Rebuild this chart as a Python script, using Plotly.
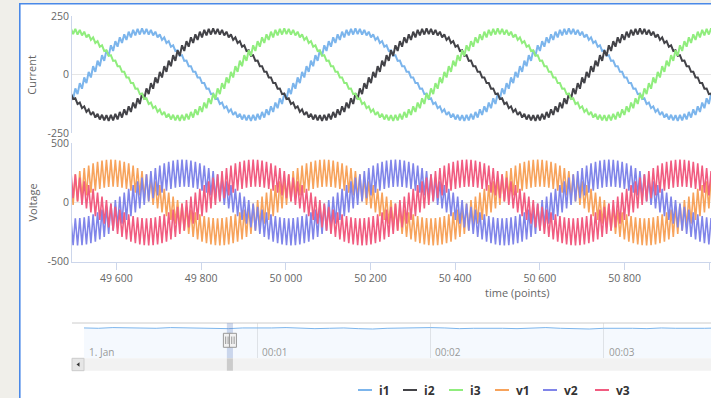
import numpy as np
import plotly.graph_objects as go

W, H = 711, 398

# ---------------- data ----------------
x_start = 49495          # time of first sample (points)
x_step = 10.5            # spacing of the samples (points)
view_range = [49495, 51597]   # extent of the main time axis (= navigator selection)
nav_total = 300000            # full extent of the data in the navigator

# centre of each waveform, read every 10.5 points
i1 = [
    -92, -71, -48, -24, 0, 24, 48, 71, 92, 113, 131, 147, 160, 171, 179, 183,
    185, 183, 179, 171, 160, 147, 131, 113, 92, 71, 48, 24, 0, -24, -48, -71, -92, -113, -131, -147, -160, -171, -179, -183,
    -185, -183, -179, -171, -160, -147, -131, -113, -92, -71, -48, -24, 0, 24, 48, 71, 92, 113, 131, 147, 160, 171, 179, 183,
    185, 183, 179, 171, 160, 147, 131, 113, 92, 71, 48, 24, 0, -24, -48, -71, -92, -113, -131, -147, -160, -171, -179, -183,
    -185, -183, -179, -171, -160, -147, -131, -113, -92, -71, -48, -24, 0, 24, 48, 71, 92, 113, 131, 147, 160, 171, 179, 183,
    185, 183, 179, 171, 160, 147, 131, 113, 92, 71, 48, 24, 0, -24, -48, -71, -92, -113, -131, -147, -160, -171, -179, -183,
    -185, -183, -179, -171, -160, -147, -131, -113, -92,
]
i2 = [
    -92, -113, -131, -147, -160, -171, -179, -183,
    -185, -183, -179, -171, -160, -147, -131, -113, -92, -71, -48, -24, 0, 24, 48, 71, 92, 113, 131, 147, 160, 171, 179, 183,
    185, 183, 179, 171, 160, 147, 131, 113, 92, 71, 48, 24, 0, -24, -48, -71, -92, -113, -131, -147, -160, -171, -179, -183,
    -185, -183, -179, -171, -160, -147, -131, -113, -92, -71, -48, -24, 0, 24, 48, 71, 92, 113, 131, 147, 160, 171, 179, 183,
    185, 183, 179, 171, 160, 147, 131, 113, 92, 71, 48, 24, 0, -24, -48, -71, -92, -113, -131, -147, -160, -171, -179, -183,
    -185, -183, -179, -171, -160, -147, -131, -113, -92, -71, -48, -24, 0, 24, 48, 71, 92, 113, 131, 147, 160, 171, 179, 183,
    185, 183, 179, 171, 160, 147, 131, 113, 92, 71, 48, 24, 0, -24, -48, -71, -92,
]
i3 = [
    185, 183, 179, 171, 160, 147, 131, 113, 92, 71, 48, 24, 0, -24, -48, -71, -92, -113, -131, -147, -160, -171, -179, -183,
    -185, -183, -179, -171, -160, -147, -131, -113, -92, -71, -48, -24, 0, 24, 48, 71, 92, 113, 131, 147, 160, 171, 179, 183,
    185, 183, 179, 171, 160, 147, 131, 113, 92, 71, 48, 24, 0, -24, -48, -71, -92, -113, -131, -147, -160, -171, -179, -183,
    -185, -183, -179, -171, -160, -147, -131, -113, -92, -71, -48, -24, 0, 24, 48, 71, 92, 113, 131, 147, 160, 171, 179, 183,
    185, 183, 179, 171, 160, 147, 131, 113, 92, 71, 48, 24, 0, -24, -48, -71, -92, -113, -131, -147, -160, -171, -179, -183,
    -185, -183, -179, -171, -160, -147, -131, -113, -92, -71, -48, -24, 0, 24, 48, 71, 92, 113, 131, 147, 160, 171, 179, 183,
    185,
]
v1 = [
    95, 124, 151, 175, 197, 215, 229, 240, 246,
    248, 246, 240, 229, 215, 197, 175, 151, 124, 95, 64, 32, 0, -32, -64, -95, -124, -151, -175, -197, -215, -229, -240, -246,
    -248, -246, -240, -229, -215, -197, -175, -151, -124, -95, -64, -32, 0, 32, 64, 95, 124, 151, 175, 197, 215, 229, 240, 246,
    248, 246, 240, 229, 215, 197, 175, 151, 124, 95, 64, 32, 0, -32, -64, -95, -124, -151, -175, -197, -215, -229, -240, -246,
    -248, -246, -240, -229, -215, -197, -175, -151, -124, -95, -64, -32, 0, 32, 64, 95, 124, 151, 175, 197, 215, 229, 240, 246,
    248, 246, 240, 229, 215, 197, 175, 151, 124, 95, 64, 32, 0, -32, -64, -95, -124, -151, -175, -197, -215, -229, -240, -246,
    -248, -246, -240, -229, -215, -197, -175, -151, -124, -95, -64, -32, 0, 32, 64, 95,
]
v2 = [
    -246,
    -248, -246, -240, -229, -215, -197, -175, -151, -124, -95, -64, -32, 0, 32, 64, 95, 124, 151, 175, 197, 215, 229, 240, 246,
    248, 246, 240, 229, 215, 197, 175, 151, 124, 95, 64, 32, 0, -32, -64, -95, -124, -151, -175, -197, -215, -229, -240, -246,
    -248, -246, -240, -229, -215, -197, -175, -151, -124, -95, -64, -32, 0, 32, 64, 95, 124, 151, 175, 197, 215, 229, 240, 246,
    248, 246, 240, 229, 215, 197, 175, 151, 124, 95, 64, 32, 0, -32, -64, -95, -124, -151, -175, -197, -215, -229, -240, -246,
    -248, -246, -240, -229, -215, -197, -175, -151, -124, -95, -64, -32, 0, 32, 64, 95, 124, 151, 175, 197, 215, 229, 240, 246,
    248, 246, 240, 229, 215, 197, 175, 151, 124, 95, 64, 32, 0, -32, -64, -95, -124, -151, -175, -197, -215, -229, -240, -246,
]
v3 = [
    151, 124, 95, 64, 32, 0, -32, -64, -95, -124, -151, -175, -197, -215, -229, -240, -246,
    -248, -246, -240, -229, -215, -197, -175, -151, -124, -95, -64, -32, 0, 32, 64, 95, 124, 151, 175, 197, 215, 229, 240, 246,
    248, 246, 240, 229, 215, 197, 175, 151, 124, 95, 64, 32, 0, -32, -64, -95, -124, -151, -175, -197, -215, -229, -240, -246,
    -248, -246, -240, -229, -215, -197, -175, -151, -124, -95, -64, -32, 0, 32, 64, 95, 124, 151, 175, 197, 215, 229, 240, 246,
    248, 246, 240, 229, 215, 197, 175, 151, 124, 95, 64, 32, 0, -32, -64, -95, -124, -151, -175, -197, -215, -229, -240, -246,
    -248, -246, -240, -229, -215, -197, -175, -151, -124, -95, -64, -32, 0, 32, 64, 95, 124, 151, 175, 197, 215, 229, 240, 246,
    248, 246, 240, 229, 215, 197, 175, 151,
]
# half-height of the fast ripple around each centre
current_ripple = 12
voltage_ripple = 115

series_names = ["i1", "i2", "i3", "v1", "v2", "v3"]
series_colors = ["#7cb5ec", "#434348", "#90ed7d", "#f7a35c", "#8085e9", "#f15c80"]

x_tick_vals = [49600, 49800, 50000, 50200, 50400, 50600, 50800, 51000]
x_tick_text = ["49 600", "49 800", "50 000", "50 200", "50 400", "50 600", "50 800", "51 000"]
current_ticks = [-250, 0, 250]
current_tick_text = ["-250", "0", "250"]
voltage_ticks = [-500, 0, 500]
voltage_tick_text = ["-500", "0", "500"]

# navigator series (one value every 5000 points)
nav_step = 5000
nav_values = [86, 85, 87, 86, 84, 85, 87, 86, 85, 83, 84, 86, 85, 86, 87, 85, 84, 85, 86, 84, 83, 85, 86,
              85, 87, 86, 84, 85, 86, 85, 84, 86, 87, 85, 84, 83, 85, 86, 85, 84, 86, 85, 84, 85, 86]
nav_label_ms = [0, 60000, 120000, 180000]
nav_labels = ["1. Jan", "00:01", "00:02", "00:03"]

# ---------------- layout helpers (pixel -> paper) ----------------
def px(x):
    return x / W


def py(y):
    return 1 - y / H


PLOT_L, PLOT_R_FULL = 72, 962        # main plot spans beyond the window on the right
NAV_L, NAV_R_FULL = 84, 950
x_vis_end = view_range[0] + (view_range[1] - view_range[0]) * (W - PLOT_L) / (PLOT_R_FULL - PLOT_L)
nav_vis_end = nav_total * (W - NAV_L) / (NAV_R_FULL - NAV_L)

CUR_TOP, CUR_BOT = 16, 133.3
VOL_TOP, VOL_BOT = 143.3, 261.7
NAV_TOP, NAV_BOT = 323, 358.3
SB_TOP, SB_BOT = 358.3, 370.7


def zigzag(center, ripple):
    c = np.asarray(center, dtype=float)
    xk = x_start + x_step * np.arange(len(c))
    xs = np.empty(2 * len(c))
    ys = np.empty(2 * len(c))
    xs[0::2] = xk - x_step / 4
    xs[1::2] = xk + x_step / 4
    ys[0::2] = c + ripple
    ys[1::2] = c - ripple
    return xs, ys


fig = go.Figure()

currents = [i1, i2, i3]
voltages = [v1, v2, v3]
for vals, name, col in zip(currents, series_names[:3], series_colors[:3]):
    xs, ys = zigzag(vals, current_ripple)
    fig.add_trace(go.Scatter(x=xs, y=ys, name=name, mode="lines", xaxis="x", yaxis="y",
                             line=dict(color=col, width=2, simplify=False), hoverinfo="skip"))
for vals, name, col in zip(voltages, series_names[3:], series_colors[3:]):
    xs, ys = zigzag(vals, voltage_ripple)
    fig.add_trace(go.Scatter(x=xs, y=ys, name=name, mode="lines", xaxis="x2", yaxis="y2",
                             line=dict(color=col, width=1.6, simplify=False), hoverinfo="skip"))

nav_x = nav_step * np.arange(len(nav_values))
fig.add_trace(go.Scatter(x=nav_x, y=nav_values, mode="lines", xaxis="x3", yaxis="y3",
                         line=dict(color="#7cb5ec", width=1), fill="tozeroy",
                         fillcolor="rgba(124,181,236,0.08)", hoverinfo="skip"))

axis_font = dict(family="Open Sans, sans-serif", size=10.5, color="#666666")

fig.update_layout(
    width=W, height=H,
    margin=dict(l=0, r=0, t=0, b=0, pad=0, autoexpand=False),
    paper_bgcolor="white", plot_bgcolor="rgba(0,0,0,0)",
    showlegend=False,
    font=dict(family="Open Sans, sans-serif", size=11, color="#666666"),
    xaxis=dict(domain=[px(PLOT_L), 1], anchor="y", range=[view_range[0], x_vis_end], automargin=False,
               showticklabels=False, showgrid=False, zeroline=False, showline=False, ticks=""),
    yaxis=dict(domain=[py(CUR_BOT), py(CUR_TOP)], anchor="x", range=[-250, 250], automargin=False,
               tickvals=current_ticks, ticktext=current_tick_text, tickfont=axis_font,
               showgrid=True, gridcolor="#e6e6e6", zeroline=False,
               showline=True, linecolor="#ccd6eb", ticks=""),
    xaxis2=dict(domain=[px(PLOT_L), 1], anchor="y2", range=[view_range[0], x_vis_end], automargin=False,
                tickvals=x_tick_vals, ticktext=x_tick_text, tickfont=axis_font,
                ticks="outside", ticklen=7, tickcolor="#ccd6eb", tickwidth=1,
                showline=True, linecolor="#ccd6eb", showgrid=False, zeroline=False),
    yaxis2=dict(domain=[py(VOL_BOT), py(VOL_TOP)], anchor="x2", range=[-500, 500], automargin=False,
                tickvals=voltage_ticks, ticktext=voltage_tick_text, tickfont=axis_font,
                showgrid=True, gridcolor="#e6e6e6", zeroline=False,
                showline=True, linecolor="#ccd6eb", ticks=""),
    xaxis3=dict(domain=[px(NAV_L), 1], anchor="y3", range=[0, nav_vis_end], automargin=False,
                tickvals=nav_label_ms, showticklabels=False, showgrid=True, gridcolor="#e6e6e6",
                zeroline=False, showline=False, ticks=""),
    yaxis3=dict(domain=[py(NAV_BOT), py(NAV_TOP)], anchor="x3", range=[0, 100], visible=False,
                automargin=False),
)

shapes = []
# page frame: grey margin and blue border
shapes.append(dict(type="rect", xref="paper", yref="paper", x0=0, x1=px(19), y0=0, y1=1,
                   fillcolor="#f0efea", line=dict(width=0)))
shapes.append(dict(type="rect", xref="paper", yref="paper", x0=0, x1=1, y0=py(3), y1=1,
                   fillcolor="#f0efea", line=dict(width=0)))
shapes.append(dict(type="line", xref="paper", yref="paper", x0=px(19.8), x1=px(19.8), y0=0, y1=py(3.2),
                   line=dict(color="#4a89e8", width=1.6)))
shapes.append(dict(type="line", xref="paper", yref="paper", x0=px(19), x1=1, y0=py(3.8), y1=py(3.8),
                   line=dict(color="#4a89e8", width=1.6)))

# navigator outline
shapes.append(dict(type="line", xref="paper", yref="paper", x0=px(PLOT_L), x1=1, y0=py(NAV_TOP), y1=py(NAV_TOP),
                   line=dict(color="#cccccc", width=1)))
# navigator selection mask
shapes.append(dict(type="rect", xref="x3", yref="paper", x0=view_range[0], x1=view_range[1],
                   y0=py(NAV_BOT), y1=py(NAV_TOP), fillcolor="rgba(102,133,194,0.3)", line=dict(width=0)))
# scrollbar track, button, arrow, thumb
shapes.append(dict(type="rect", xref="paper", yref="paper", x0=px(PLOT_L), x1=1, y0=py(SB_BOT), y1=py(SB_TOP),
                   fillcolor="#f2f2f2", line=dict(width=0)))
shapes.append(dict(type="rect", xref="paper", yref="paper", x0=px(PLOT_L), x1=px(NAV_L), y0=py(SB_BOT), y1=py(SB_TOP),
                   fillcolor="#e6e6e6", line=dict(color="#cccccc", width=1)))
shapes.append(dict(type="path", xref="paper", yref="paper",
                   path=f"M {px(76.5)} {py(364.5)} L {px(79.5)} {py(362.3)} L {px(79.5)} {py(366.7)} Z",
                   fillcolor="#333333", line=dict(width=0)))
shapes.append(dict(type="rect", xref="x3", yref="paper", x0=view_range[0], x1=view_range[1],
                   y0=py(SB_BOT), y1=py(SB_TOP), fillcolor="#cccccc", line=dict(width=0)))
# navigator handles at both ends of the selection
for edge in view_range:
    shapes.append(dict(type="rect", xref="x3", yref="paper", xsizemode="pixel", xanchor=edge,
                       x0=-3.5, x1=3.5, y0=py(347.3), y1=py(333.3),
                       fillcolor="#f2f2f2", line=dict(color="#999999", width=1)))
    for off in (-1.2, 1.2):
        shapes.append(dict(type="line", xref="x3", yref="paper", xsizemode="pixel", xanchor=edge,
                           x0=off, x1=off, y0=py(344), y1=py(336.5),
                           line=dict(color="#999999", width=1)))

annotations = []
annotations.append(dict(text="Current", xref="paper", yref="paper", x=px(32), y=py((CUR_TOP + CUR_BOT) / 2),
                        textangle=-90, showarrow=False, font=dict(size=11, color="#666666"),
                        xanchor="center", yanchor="middle"))
annotations.append(dict(text="Voltage", xref="paper", yref="paper", x=px(32), y=py((VOL_TOP + VOL_BOT) / 2),
                        textangle=-90, showarrow=False, font=dict(size=11, color="#666666"),
                        xanchor="center", yanchor="middle"))
annotations.append(dict(text="time (points)", xref="x2", yref="paper", x=(view_range[0] + view_range[1]) / 2,
                        y=py(292), showarrow=False, font=dict(size=11, color="#666666"),
                        xanchor="center", yanchor="middle"))
for ms, lab in zip(nav_label_ms, nav_labels):
    annotations.append(dict(text=lab, xref="x3", yref="paper", x=ms, xshift=3, y=py(351.5),
                            showarrow=False, font=dict(size=10, color="#999999"),
                            xanchor="left", yanchor="middle"))

# legend (drawn manually to match compact symbol size)
legend_x_px = [358, 403, 449, 495, 543, 595]
for lx, name, col in zip(legend_x_px, series_names, series_colors):
    shapes.append(dict(type="line", xref="paper", yref="paper", x0=px(lx), x1=px(lx + 14),
                       y0=py(390), y1=py(390), line=dict(color=col, width=2)))
    annotations.append(dict(text=f"<b>{name}</b>", xref="paper", yref="paper", x=px(lx + 19), y=py(390),
                            showarrow=False, font=dict(size=12, color="#333333"),
                            xanchor="left", yanchor="middle"))

fig.update_layout(shapes=shapes, annotations=annotations)

# remove the browser's default 8px page margin so the figure sits at the window origin
fig.write_html("out.html", include_plotlyjs=True, config={"displayModeBar": False},
               post_script="document.body.style.margin='0';document.body.style.overflow='hidden';")
